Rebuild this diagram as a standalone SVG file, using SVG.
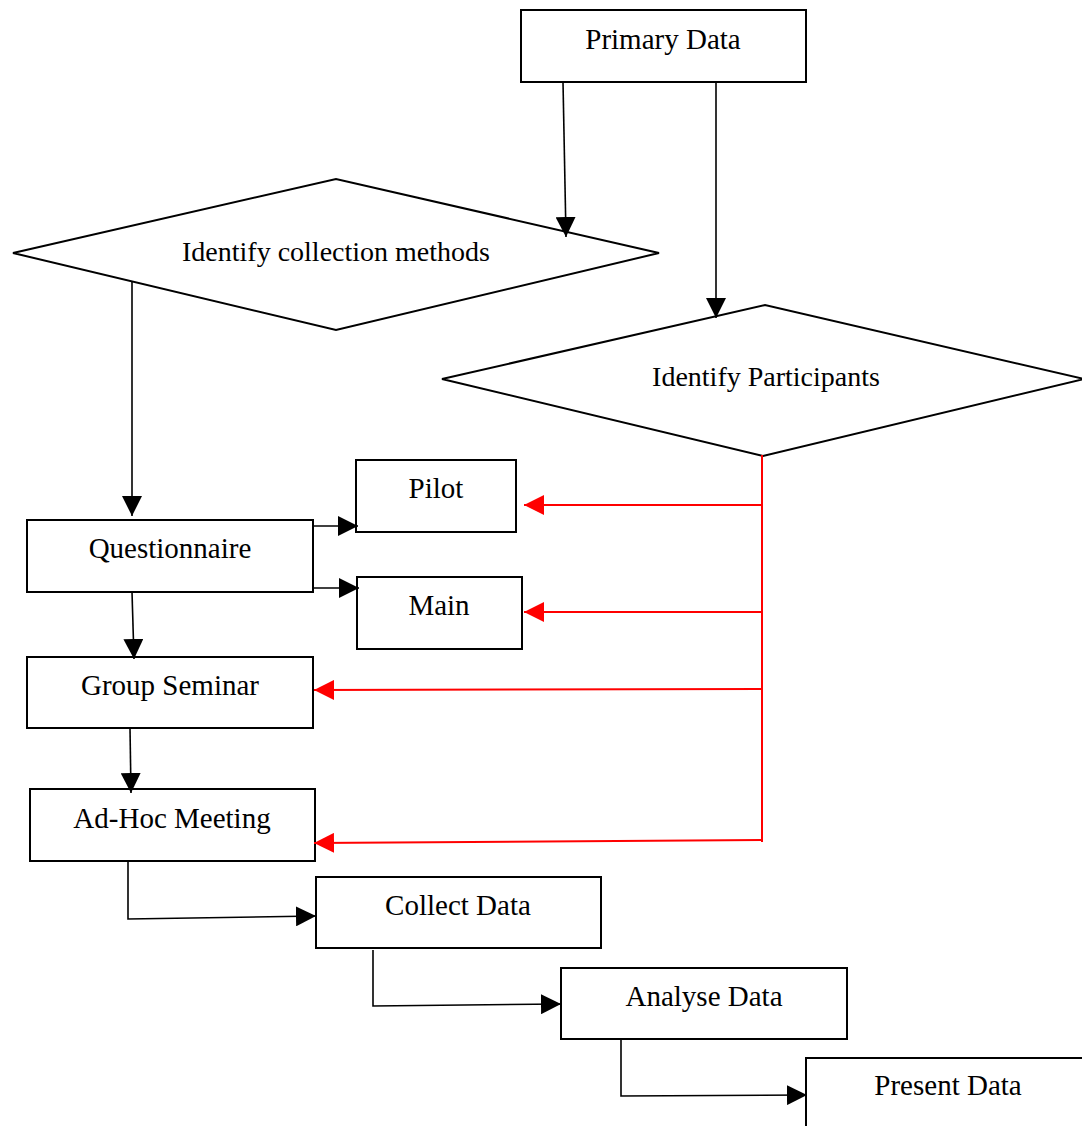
<svg xmlns="http://www.w3.org/2000/svg" width="1082" height="1126" viewBox="0 0 1082 1126">
<style>
.box{fill:#fff;stroke:#000;stroke-width:2}
.lbl{font-family:"Liberation Serif","DejaVu Serif",serif;font-size:29px;fill:#000;text-anchor:middle}
.lbl2{font-family:"Liberation Serif","DejaVu Serif",serif;font-size:28px;fill:#000;text-anchor:middle}
.blk{fill:none;stroke:#000;stroke-width:1.6}
.red{fill:none;stroke:#f00;stroke-width:2}
</style>
<defs>
<marker id="ab" markerUnits="userSpaceOnUse" markerWidth="20" markerHeight="20" viewBox="0 0 20 20" refX="20" refY="10" orient="auto"><path d="M0,0 L20,10 L0,20 Z" fill="#000"/></marker>
<marker id="ar" markerUnits="userSpaceOnUse" markerWidth="20" markerHeight="20" viewBox="0 0 20 20" refX="20" refY="10" orient="auto"><path d="M0,0 L20,10 L0,20 Z" fill="#f00"/></marker>
</defs>
<g id="primary"><rect class="box" x="521" y="10" width="285" height="72"/><text class="lbl" x="663" y="49">Primary Data</text></g>
<g id="methods"><polygon class="box" points="13,253 336,179 659,253 336,330"/><text class="lbl2" x="336" y="261">Identify collection methods</text></g>
<g id="participants"><polygon class="box" points="442,379 765,305 1084,379 763,456"/><text class="lbl2" x="766" y="386">Identify Participants</text></g>
<g id="pilot"><rect class="box" x="356" y="460" width="160" height="72"/><text class="lbl" x="436" y="498">Pilot</text></g>
<g id="questionnaire"><rect class="box" x="27" y="520" width="286" height="72"/><text class="lbl" x="170" y="558">Questionnaire</text></g>
<g id="main"><rect class="box" x="357" y="577" width="165" height="72"/><text class="lbl" x="439" y="615">Main</text></g>
<g id="seminar"><rect class="box" x="27" y="657" width="286" height="71"/><text class="lbl" x="170" y="695">Group Seminar</text></g>
<g id="adhoc"><rect class="box" x="30" y="789" width="285" height="72"/><text class="lbl" x="172" y="828">Ad-Hoc Meeting</text></g>
<g id="collect"><rect class="box" x="316" y="877" width="285" height="71"/><text class="lbl" x="458" y="915">Collect Data</text></g>
<g id="analyse"><rect class="box" x="561" y="968" width="286" height="71"/><text class="lbl" x="704" y="1006">Analyse Data</text></g>
<g id="present"><rect class="box" x="806" y="1058" width="290" height="80"/><text class="lbl" x="948" y="1095">Present Data</text></g>
<g id="connectors">
<path class="blk" d="M563,82 L566,237" marker-end="url(#ab)"/>
<path class="blk" d="M716,82 L716,318" marker-end="url(#ab)"/>
<path class="blk" d="M132,281 L132,516" marker-end="url(#ab)"/>
<path class="blk" d="M313,526 L358,526" marker-end="url(#ab)"/>
<path class="blk" d="M313,588 L359,588" marker-end="url(#ab)"/>
<path class="blk" d="M132,592 L134,659" marker-end="url(#ab)"/>
<path class="blk" d="M130,728 L131,793" marker-end="url(#ab)"/>
<path class="blk" d="M128,861 L128,919 L316,916" marker-end="url(#ab)"/>
<path class="blk" d="M373,950 L373,1006 L561,1004" marker-end="url(#ab)"/>
<path class="blk" d="M621,1040 L621,1096 L807,1095" marker-end="url(#ab)"/>
<path class="red" d="M762,455 L762,842"/>
<path class="red" d="M762,505 L524,505" marker-end="url(#ar)"/>
<path class="red" d="M762,612 L524,612" marker-end="url(#ar)"/>
<path class="red" d="M762,689 L314,690" marker-end="url(#ar)"/>
<path class="red" d="M762,840 L314,843" marker-end="url(#ar)"/>
</g>
</svg>
